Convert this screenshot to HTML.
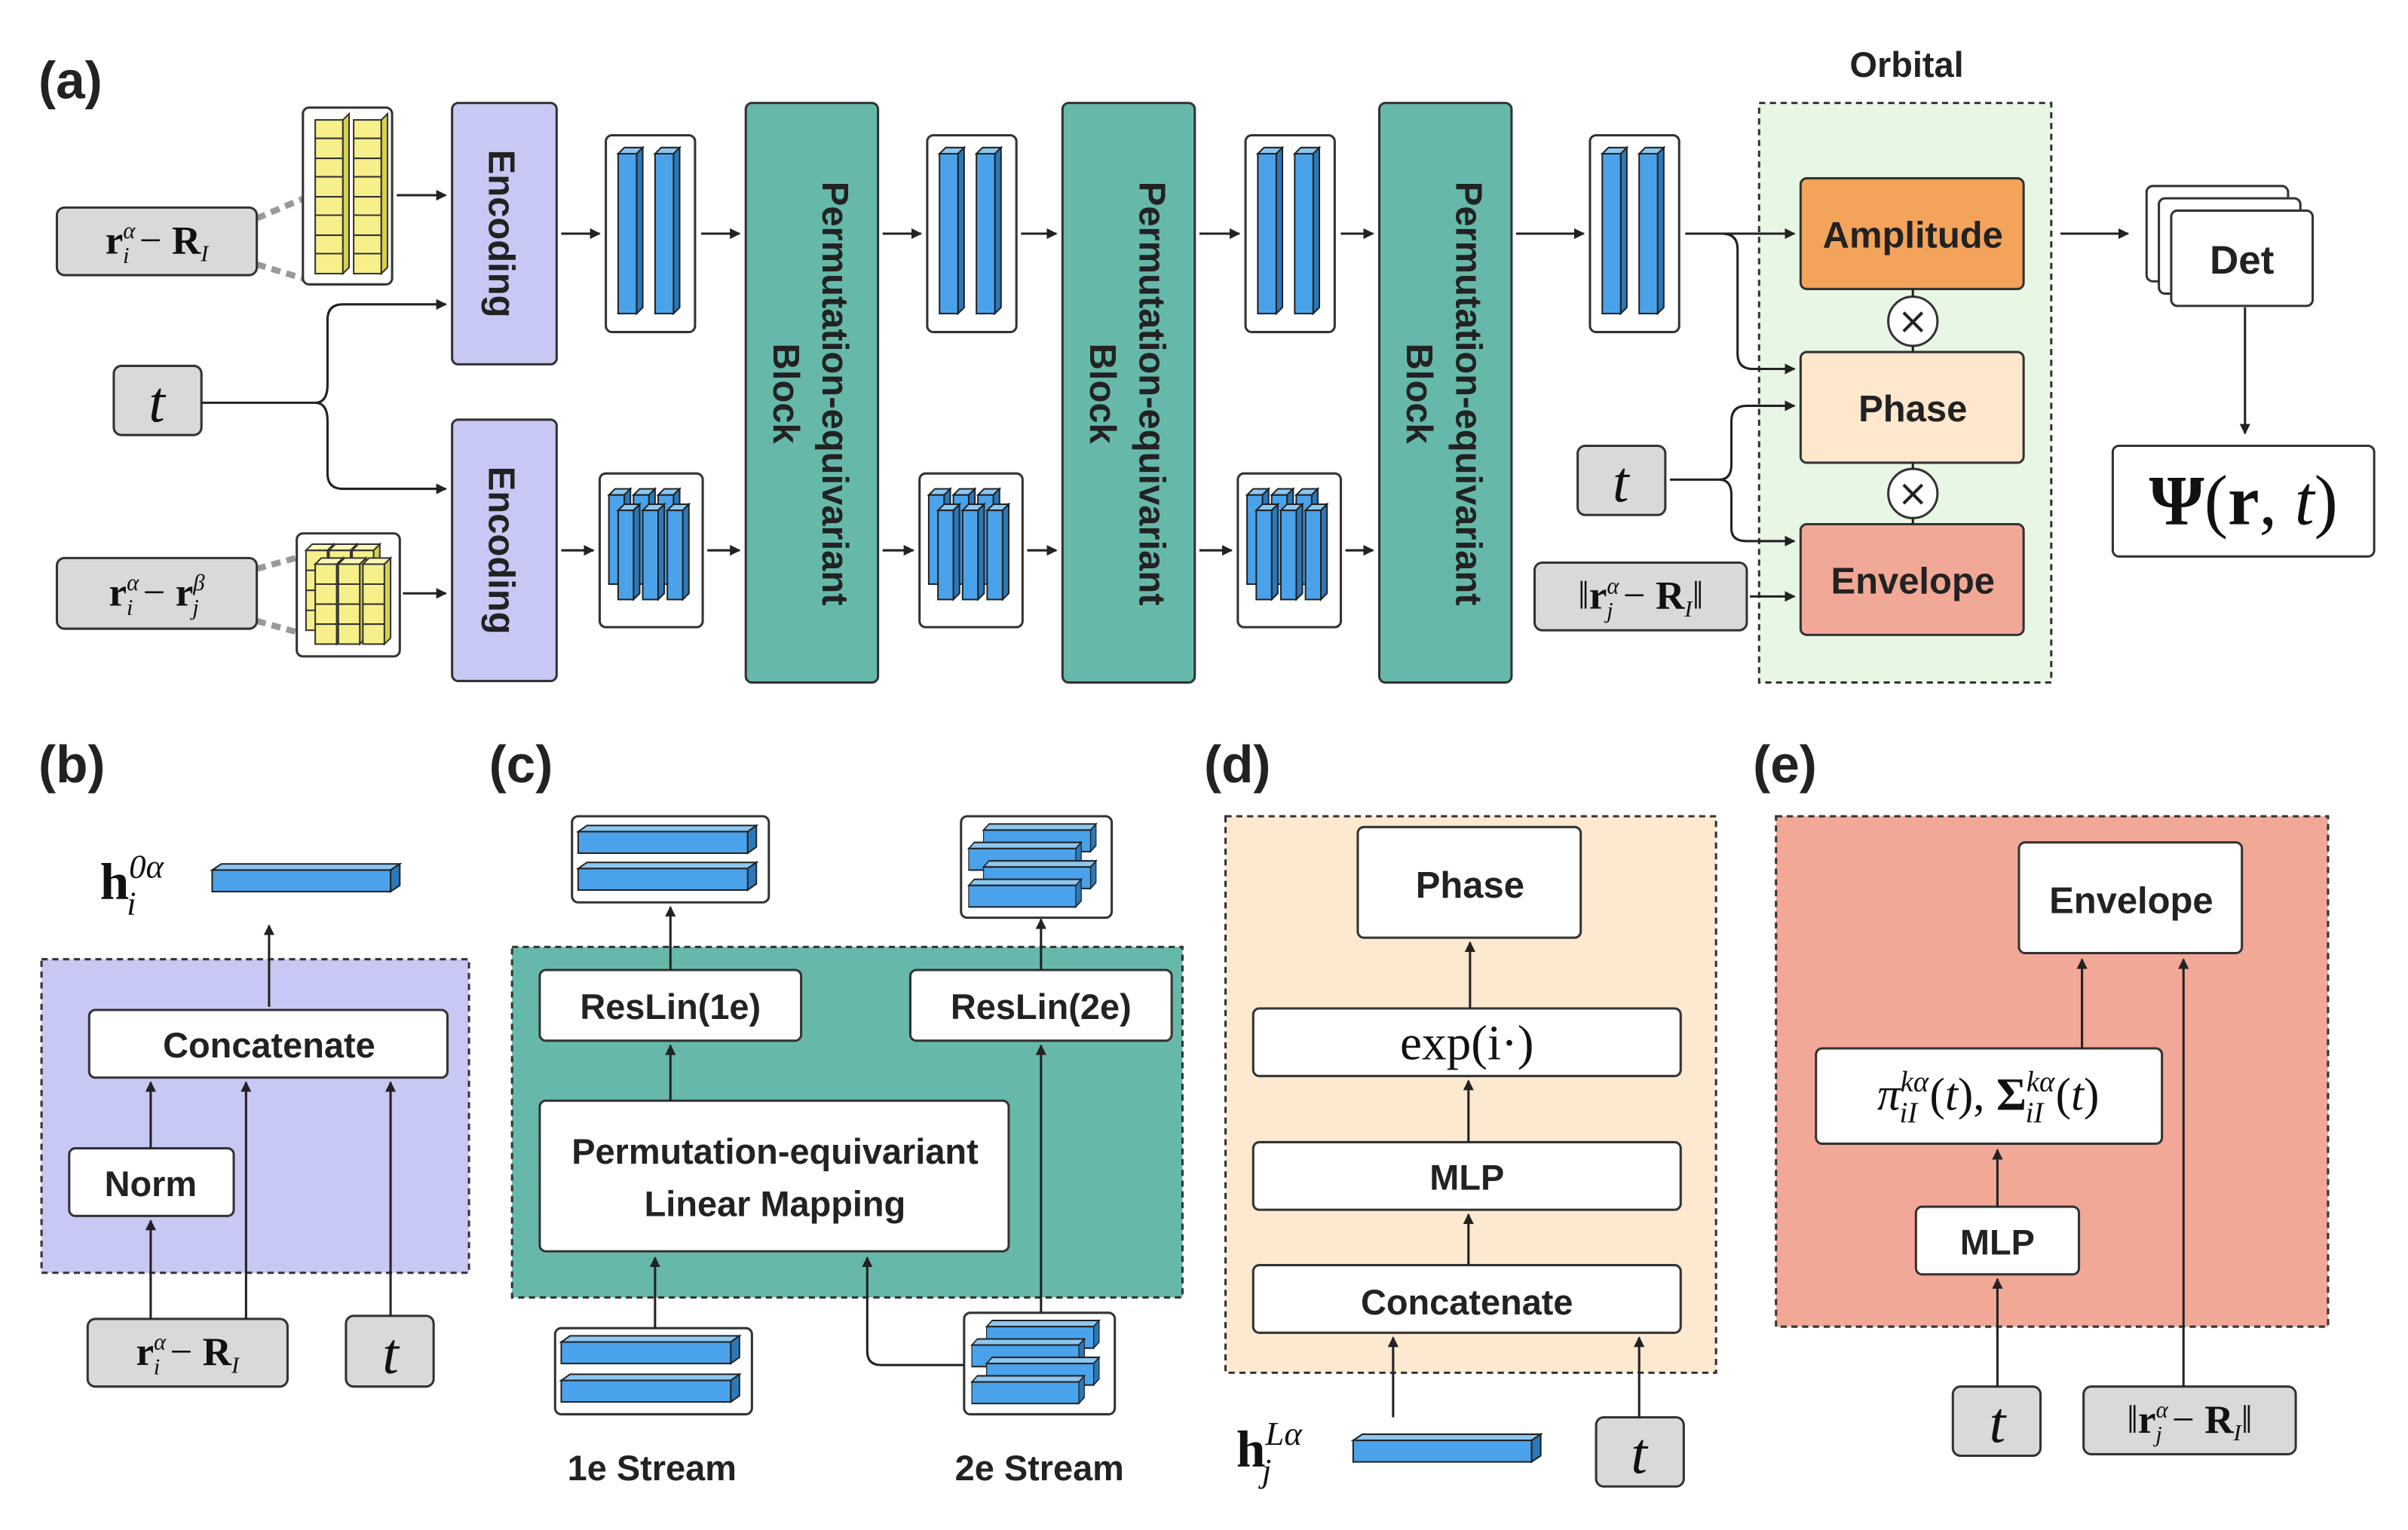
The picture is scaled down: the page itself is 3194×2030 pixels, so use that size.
<!DOCTYPE html>
<html><head><meta charset="utf-8"><style>
html,body{margin:0;padding:0;background:#fff}
svg{display:block}
.t{font-family:"Liberation Sans",sans-serif;font-weight:bold;fill:#222}
.m{font-family:"Liberation Serif",serif;fill:#111}
</style></head><body>
<svg width="3194" height="2030" viewBox="0 0 1566 995.3" preserveAspectRatio="none" xmlns="http://www.w3.org/2000/svg">
<defs>
<marker id="ah" viewBox="0 0 10 10" refX="9" refY="5" markerWidth="7" markerHeight="7" orient="auto" markerUnits="userSpaceOnUse"><path d="M0,0L10,5L0,10z" fill="#222"/></marker>
<g id="prism">
<path d="M0,4 L4,0 L16,0 L12,4z" fill="#8cc7f2" stroke="#222" stroke-width="1"/>
<path d="M12,4 L16,0 L16,104 L12,108z" fill="#2c78b8" stroke="#222" stroke-width="1"/>
<rect x="0" y="4" width="12" height="104" fill="#4aa3ea" stroke="#222" stroke-width="1"/>
</g>
<g id="bcol">
<rect x="0" y="0" width="58" height="128" rx="4" fill="#fff" stroke="#333" stroke-width="1.5"/>
<use href="#prism" x="8" y="8"/>
<use href="#prism" x="32" y="8"/>
</g>
<g id="sp">
<path d="M0,4 L4,0 L14,0 L10,4z" fill="#8cc7f2" stroke="#222"/>
<path d="M10,4 L14,0 L14,58 L10,62z" fill="#2c78b8" stroke="#222"/>
<rect x="0" y="4" width="10" height="58" fill="#4aa3ea" stroke="#222"/>
</g>
<g id="bcol2">
<rect x="0" y="0" width="67" height="100" rx="4" fill="#fff" stroke="#333" stroke-width="1.5"/>
<use href="#sp" x="6" y="10"/><use href="#sp" x="22" y="10"/><use href="#sp" x="38" y="10"/>
<use href="#sp" x="12" y="20"/><use href="#sp" x="28" y="20"/><use href="#sp" x="44" y="20"/>
</g>
<g id="hbar">
<path d="M0,4 L6,0 L122,0 L116,4z" fill="#8cc7f2" stroke="#222"/>
<path d="M116,4 L122,0 L122,14 L116,18z" fill="#2c78b8" stroke="#222"/>
<rect x="0" y="4" width="116" height="14" fill="#4aa3ea" stroke="#222"/>
</g>
<g id="ybar">
<rect x="0" y="0" width="18" height="100" fill="#f7f08a" stroke="#333"/>
<path d="M0,12H18M0,25H18M0,37H18M0,50H18M0,62H18M0,75H18M0,87H18" stroke="#333"/>
<path d="M18,0 L22,-4 L22,96 L18,100z" fill="#d8cf50" stroke="#333"/>
</g>
<g id="ycube">
<rect x="0" y="0" width="14" height="52" fill="#f7f08a" stroke="#333"/>
<path d="M0,13H14M0,26H14M0,39H14" stroke="#333"/>
<path d="M14,0 L18,-4 L18,48 L14,52z" fill="#d8cf50" stroke="#333"/>
<path d="M0,0 L4,-4 L18,-4 L14,0z" fill="#fbf7b8" stroke="#333"/>
</g>
</defs>

<!-- gray dashed -->
<path d="M167,142L200,128M167,172L200,182M167,370L196,362M167,404L196,412" stroke="#999" stroke-width="4" stroke-dasharray="6,4" fill="none"/>

<!-- (a) -->
<text class="t" x="25" y="64" font-size="34">(a)</text>
<rect x="37" y="135" width="130" height="44" rx="5" fill="#d9d9d9" stroke="#333" stroke-width="1.5"/>
<text class="m" x="102" y="165" font-size="26" text-anchor="middle"><tspan font-weight="bold">r</tspan><tspan font-size="15" dy="-10" font-style="italic">α</tspan><tspan font-size="15" dx="-8" dy="16" font-style="italic">i</tspan><tspan dy="-6"> − </tspan><tspan font-weight="bold">R</tspan><tspan font-size="15" dy="5" font-style="italic">I</tspan></text>
<rect x="197" y="70" width="58" height="115" rx="4" fill="#fff" stroke="#333" stroke-width="1.5"/>
<use href="#ybar" x="205" y="78"/><use href="#ybar" x="230" y="78"/>
<rect x="294" y="67" width="68" height="170" rx="4" fill="#c8c8f4" stroke="#333" stroke-width="1.5"/>
<text class="t" font-size="24" transform="translate(318,152) rotate(90)" text-anchor="middle">Encoding</text>
<rect x="74" y="238" width="57" height="45" rx="5" fill="#d9d9d9" stroke="#333" stroke-width="1.5"/>
<text class="m" x="102" y="274" font-size="38" font-style="italic" text-anchor="middle">t</text>
<rect x="294" y="273" width="68" height="170" rx="4" fill="#c8c8f4" stroke="#333" stroke-width="1.5"/>
<text class="t" font-size="24" transform="translate(318,358) rotate(90)" text-anchor="middle">Encoding</text>
<rect x="37" y="363" width="130" height="46" rx="5" fill="#d9d9d9" stroke="#333" stroke-width="1.5"/>
<text class="m" x="102" y="394" font-size="26" text-anchor="middle"><tspan font-weight="bold">r</tspan><tspan font-size="15" dy="-10" font-style="italic">α</tspan><tspan font-size="15" dx="-8" dy="16" font-style="italic">i</tspan><tspan dy="-6"> − </tspan><tspan font-weight="bold">r</tspan><tspan font-size="15" dy="-10" font-style="italic">β</tspan><tspan font-size="15" dx="-8" dy="16" font-style="italic">j</tspan></text>
<rect x="193" y="347" width="67" height="80" rx="4" fill="#fff" stroke="#333" stroke-width="1.5"/>
<use href="#ycube" x="199" y="358"/><use href="#ycube" x="214" y="358"/><use href="#ycube" x="229" y="358"/>
<use href="#ycube" x="205" y="367"/><use href="#ycube" x="220" y="367"/><use href="#ycube" x="236" y="367"/>

<use href="#bcol" x="394" y="88"/>
<use href="#bcol" x="603" y="88"/>
<use href="#bcol" x="810" y="88"/>
<use href="#bcol" x="1034" y="88"/>
<use href="#bcol2" x="390" y="308"/>
<use href="#bcol2" x="598" y="308"/>
<use href="#bcol2" x="805" y="308"/>

<g>
<rect x="485" y="67" width="86" height="377" rx="4" fill="#66b9aa" stroke="#333" stroke-width="1.5"/>
<text class="t" font-size="24" transform="translate(535,256) rotate(90)" text-anchor="middle">Permutation-equivariant</text>
<text class="t" font-size="24" transform="translate(503,256) rotate(90)" text-anchor="middle">Block</text>
<rect x="691" y="67" width="86" height="377" rx="4" fill="#66b9aa" stroke="#333" stroke-width="1.5"/>
<text class="t" font-size="24" transform="translate(741,256) rotate(90)" text-anchor="middle">Permutation-equivariant</text>
<text class="t" font-size="24" transform="translate(709,256) rotate(90)" text-anchor="middle">Block</text>
<rect x="897" y="67" width="86" height="377" rx="4" fill="#66b9aa" stroke="#333" stroke-width="1.5"/>
<text class="t" font-size="24" transform="translate(947,256) rotate(90)" text-anchor="middle">Permutation-equivariant</text>
<text class="t" font-size="24" transform="translate(915,256) rotate(90)" text-anchor="middle">Block</text>
</g>

<text class="t" x="1240" y="50" font-size="23" text-anchor="middle">Orbital</text>
<rect x="1144" y="67" width="190" height="377" fill="#e8f7e4" stroke="#333" stroke-width="1.5" stroke-dasharray="4,3"/>
<rect x="1171" y="116" width="145" height="72" rx="4" fill="#f4a35b" stroke="#333" stroke-width="1.5"/>
<text class="t" x="1244" y="161" font-size="24" text-anchor="middle">Amplitude</text>
<rect x="1171" y="229" width="145" height="72" rx="4" fill="#fde7cd" stroke="#333" stroke-width="1.5"/>
<text class="t" x="1244" y="274" font-size="24" text-anchor="middle">Phase</text>
<rect x="1171" y="341" width="145" height="72" rx="4" fill="#f2a897" stroke="#333" stroke-width="1.5"/>
<text class="t" x="1244" y="386" font-size="24" text-anchor="middle">Envelope</text>
<circle cx="1244" cy="209" r="16" fill="#fff" stroke="#333" stroke-width="1.5"/>
<text x="1244" y="217" font-size="24" text-anchor="middle" font-family="DejaVu Sans" fill="#222">×</text>
<circle cx="1244" cy="321" r="16" fill="#fff" stroke="#333" stroke-width="1.5"/>
<text x="1244" y="329" font-size="24" text-anchor="middle" font-family="DejaVu Sans" fill="#222">×</text>
<rect x="1026" y="290" width="57" height="45" rx="5" fill="#d9d9d9" stroke="#333" stroke-width="1.5"/>
<text class="m" x="1054" y="326" font-size="38" font-style="italic" text-anchor="middle">t</text>
<rect x="998" y="366" width="138" height="44" rx="5" fill="#d9d9d9" stroke="#333" stroke-width="1.5"/>
<text class="m" x="1067" y="396" font-size="26" text-anchor="middle">‖<tspan font-weight="bold">r</tspan><tspan font-size="15" dy="-10" font-style="italic">α</tspan><tspan font-size="15" dx="-8" dy="16" font-style="italic">j</tspan><tspan dy="-6"> − </tspan><tspan font-weight="bold">R</tspan><tspan font-size="15" dy="5" font-style="italic">I</tspan><tspan dy="-5">‖</tspan></text>
<rect x="1396" y="121" width="92" height="62" rx="4" fill="#fff" stroke="#333" stroke-width="1.5"/>
<rect x="1404" y="129" width="92" height="62" rx="4" fill="#fff" stroke="#333" stroke-width="1.5"/>
<rect x="1412" y="137" width="92" height="62" rx="4" fill="#fff" stroke="#333" stroke-width="1.5"/>
<text class="t" x="1458" y="178" font-size="26" text-anchor="middle">Det</text>
<rect x="1374" y="290" width="170" height="72" rx="4" fill="#fff" stroke="#333" stroke-width="1.5"/>
<text class="m" x="1459" y="341" font-size="46" text-anchor="middle"><tspan font-weight="bold">Ψ</tspan>(<tspan font-weight="bold">r</tspan>, <tspan font-style="italic">t</tspan>)</text>

<!-- (b) -->
<text class="t" x="25" y="509" font-size="34">(b)</text>
<text class="m" x="65" y="585" font-size="34"><tspan font-weight="bold">h</tspan><tspan font-size="22" dy="-14" font-style="italic">0α</tspan><tspan font-size="22" dx="-24" dy="24" font-style="italic">i</tspan></text>
<use href="#hbar" x="138" y="562"/>
<rect x="27" y="624" width="278" height="204" fill="#c8c8f4" stroke="#333" stroke-width="1.5" stroke-dasharray="4,3"/>
<rect x="58" y="657" width="233" height="44" rx="4" fill="#fff" stroke="#333" stroke-width="1.5"/>
<text class="t" x="175" y="688" font-size="23" text-anchor="middle">Concatenate</text>
<rect x="45" y="747" width="107" height="44" rx="4" fill="#fff" stroke="#333" stroke-width="1.5"/>
<text class="t" x="98" y="778" font-size="23" text-anchor="middle">Norm</text>
<rect x="57" y="858" width="130" height="44" rx="5" fill="#d9d9d9" stroke="#333" stroke-width="1.5"/>
<text class="m" x="122" y="888" font-size="26" text-anchor="middle"><tspan font-weight="bold">r</tspan><tspan font-size="15" dy="-10" font-style="italic">α</tspan><tspan font-size="15" dx="-8" dy="16" font-style="italic">i</tspan><tspan dy="-6"> − </tspan><tspan font-weight="bold">R</tspan><tspan font-size="15" dy="5" font-style="italic">I</tspan></text>
<rect x="225" y="856" width="57" height="46" rx="5" fill="#d9d9d9" stroke="#333" stroke-width="1.5"/>
<text class="m" x="254" y="893" font-size="38" font-style="italic" text-anchor="middle">t</text>

<!-- (c) -->
<text class="t" x="318" y="509" font-size="34">(c)</text>
<rect x="372" y="531" width="128" height="56" rx="4" fill="#fff" stroke="#333" stroke-width="1.5"/>
<use href="#hbar" transform="translate(376,537) scale(0.95,1)"/>
<use href="#hbar" transform="translate(376,561) scale(0.95,1)"/>
<rect x="625" y="531" width="98" height="66" rx="4" fill="#fff" stroke="#333" stroke-width="1.5"/>
<g transform="translate(630,536) scale(0.6,1)"><use href="#hbar" x="16" y="0"/><use href="#hbar" x="0" y="12"/><use href="#hbar" x="16" y="24"/><use href="#hbar" x="0" y="36"/></g>
<rect x="333" y="616" width="436" height="228" fill="#66b9aa" stroke="#333" stroke-width="1.5" stroke-dasharray="4,3"/>
<rect x="351" y="631" width="170" height="46" rx="4" fill="#fff" stroke="#333" stroke-width="1.5"/>
<text class="t" x="436" y="663" font-size="23" text-anchor="middle">ResLin(1e)</text>
<rect x="592" y="631" width="170" height="46" rx="4" fill="#fff" stroke="#333" stroke-width="1.5"/>
<text class="t" x="677" y="663" font-size="23" text-anchor="middle">ResLin(2e)</text>
<rect x="351" y="716" width="305" height="98" rx="4" fill="#fff" stroke="#333" stroke-width="1.5"/>
<text class="t" x="504" y="757" font-size="23" text-anchor="middle">Permutation-equivariant</text>
<text class="t" x="504" y="791" font-size="23" text-anchor="middle">Linear Mapping</text>
<rect x="361" y="864" width="128" height="56" rx="4" fill="#fff" stroke="#333" stroke-width="1.5"/>
<use href="#hbar" transform="translate(365,869) scale(0.95,1)"/>
<use href="#hbar" transform="translate(365,894) scale(0.95,1)"/>
<rect x="627" y="854" width="98" height="66" rx="4" fill="#fff" stroke="#333" stroke-width="1.5"/>
<g transform="translate(632,859) scale(0.6,1)"><use href="#hbar" x="16" y="0"/><use href="#hbar" x="0" y="12"/><use href="#hbar" x="16" y="24"/><use href="#hbar" x="0" y="36"/></g>
<text class="t" x="424" y="963" font-size="23" text-anchor="middle">1e Stream</text>
<text class="t" x="676" y="963" font-size="23" text-anchor="middle">2e Stream</text>

<!-- (d) -->
<text class="t" x="783" y="509" font-size="34">(d)</text>
<rect x="797" y="531" width="319" height="362" fill="#fde8d0" stroke="#333" stroke-width="1.5" stroke-dasharray="4,3"/>
<rect x="883" y="538" width="145" height="72" rx="4" fill="#fff" stroke="#333" stroke-width="1.5"/>
<text class="t" x="956" y="584" font-size="24" text-anchor="middle">Phase</text>
<rect x="815" y="656" width="278" height="44" rx="4" fill="#fff" stroke="#333" stroke-width="1.5"/>
<text class="m" x="954" y="689" font-size="32" text-anchor="middle">exp(i·)</text>
<rect x="815" y="743" width="278" height="44" rx="4" fill="#fff" stroke="#333" stroke-width="1.5"/>
<text class="t" x="954" y="774" font-size="23" text-anchor="middle">MLP</text>
<rect x="815" y="823" width="278" height="44" rx="4" fill="#fff" stroke="#333" stroke-width="1.5"/>
<text class="t" x="954" y="855" font-size="23" text-anchor="middle">Concatenate</text>
<text class="m" x="804" y="954" font-size="34"><tspan font-weight="bold">h</tspan><tspan font-size="22" dy="-14" font-style="italic">Lα</tspan><tspan font-size="22" dx="-26" dy="24" font-style="italic">j</tspan></text>
<use href="#hbar" x="880" y="933"/>
<rect x="1038" y="922" width="57" height="45" rx="5" fill="#d9d9d9" stroke="#333" stroke-width="1.5"/>
<text class="m" x="1066" y="958" font-size="38" font-style="italic" text-anchor="middle">t</text>

<!-- (e) -->
<text class="t" x="1140" y="509" font-size="34">(e)</text>
<rect x="1155" y="531" width="359" height="332" fill="#f2a897" stroke="#333" stroke-width="1.5" stroke-dasharray="4,3"/>
<rect x="1313" y="548" width="145" height="72" rx="4" fill="#fff" stroke="#333" stroke-width="1.5"/>
<text class="t" x="1386" y="594" font-size="24" text-anchor="middle">Envelope</text>
<rect x="1181" y="682" width="225" height="62" rx="4" fill="#fff" stroke="#333" stroke-width="1.5"/>
<text class="m" x="1293" y="722" font-size="30" text-anchor="middle"><tspan font-style="italic">π</tspan><tspan font-size="19" dy="-12" font-style="italic">kα</tspan><tspan font-size="19" dx="-19" dy="20" font-style="italic">iI</tspan><tspan dx="8" dy="-8">(</tspan><tspan font-style="italic">t</tspan>), <tspan font-weight="bold">Σ</tspan><tspan font-size="19" dy="-12" font-style="italic">kα</tspan><tspan font-size="19" dx="-19" dy="20" font-style="italic">iI</tspan><tspan dx="8" dy="-8">(</tspan><tspan font-style="italic">t</tspan>)</text>
<rect x="1246" y="785" width="106" height="44" rx="4" fill="#fff" stroke="#333" stroke-width="1.5"/>
<text class="t" x="1299" y="816" font-size="23" text-anchor="middle">MLP</text>
<rect x="1270" y="902" width="57" height="45" rx="5" fill="#d9d9d9" stroke="#333" stroke-width="1.5"/>
<text class="m" x="1299" y="938" font-size="38" font-style="italic" text-anchor="middle">t</text>
<rect x="1355" y="902" width="138" height="44" rx="5" fill="#d9d9d9" stroke="#333" stroke-width="1.5"/>
<text class="m" x="1424" y="932" font-size="26" text-anchor="middle">‖<tspan font-weight="bold">r</tspan><tspan font-size="15" dy="-10" font-style="italic">α</tspan><tspan font-size="15" dx="-8" dy="16" font-style="italic">j</tspan><tspan dy="-6"> − </tspan><tspan font-weight="bold">R</tspan><tspan font-size="15" dy="5" font-style="italic">I</tspan><tspan dy="-5">‖</tspan></text>

<!-- arrows on top -->
<g stroke="#222" stroke-width="1.5" fill="none">
<path d="M258,127H290" marker-end="url(#ah)"/>
<path d="M262,386H290" marker-end="url(#ah)"/>
<path d="M131,262H205M205,262Q213,262 213,250V208Q213,198 223,198H290" marker-end="url(#ah)"/>
<path d="M205,262Q213,262 213,274V308Q213,318 223,318H290" marker-end="url(#ah)"/>
<path d="M365,152H390" marker-end="url(#ah)"/>
<path d="M365,358H386" marker-end="url(#ah)"/>
<path d="M456,152H481" marker-end="url(#ah)"/>
<path d="M460,358H481" marker-end="url(#ah)"/>
<path d="M574,152H599" marker-end="url(#ah)"/>
<path d="M574,358H594" marker-end="url(#ah)"/>
<path d="M664,152H687" marker-end="url(#ah)"/>
<path d="M668,358H687" marker-end="url(#ah)"/>
<path d="M780,152H806" marker-end="url(#ah)"/>
<path d="M780,358H801" marker-end="url(#ah)"/>
<path d="M872,152H893" marker-end="url(#ah)"/>
<path d="M875,358H893" marker-end="url(#ah)"/>
<path d="M986,152H1030" marker-end="url(#ah)"/>
<path d="M1096,152H1167" marker-end="url(#ah)"/>
<path d="M1120,152Q1130,152 1130,162V230Q1130,240 1140,240H1167" marker-end="url(#ah)"/>
<path d="M1086,312H1118Q1126,312 1126,302V274Q1126,264 1136,264H1167" marker-end="url(#ah)"/>
<path d="M1118,312Q1126,312 1126,322V344Q1126,352 1136,352H1167" marker-end="url(#ah)"/>
<path d="M1138,388H1167" marker-end="url(#ah)"/>
<path d="M1340,152H1384" marker-end="url(#ah)"/>
<path d="M1460,200V282" marker-end="url(#ah)"/>
<path d="M1244,188V193M1244,225V229M1244,301V305M1244,337V341"/>
<path d="M175,655V602" marker-end="url(#ah)"/>
<path d="M98,747V704" marker-end="url(#ah)"/>
<path d="M98,858V794" marker-end="url(#ah)"/>
<path d="M160,858V704" marker-end="url(#ah)"/>
<path d="M254,856V704" marker-end="url(#ah)"/>
<path d="M436,631V590" marker-end="url(#ah)"/>
<path d="M677,631V598" marker-end="url(#ah)"/>
<path d="M436,716V680" marker-end="url(#ah)"/>
<path d="M426,864V818" marker-end="url(#ah)"/>
<path d="M627,888H573Q564,888 564,879V818" marker-end="url(#ah)"/>
<path d="M677,854V680" marker-end="url(#ah)"/>
<path d="M956,656V613" marker-end="url(#ah)"/>
<path d="M955,743V703" marker-end="url(#ah)"/>
<path d="M955,823V790" marker-end="url(#ah)"/>
<path d="M906,922V870" marker-end="url(#ah)"/>
<path d="M1066,922V870" marker-end="url(#ah)"/>
<path d="M1354,682V624" marker-end="url(#ah)"/>
<path d="M1420,902V624" marker-end="url(#ah)"/>
<path d="M1299,785V748" marker-end="url(#ah)"/>
<path d="M1299,902V832" marker-end="url(#ah)"/>
</g>
</svg>
</body></html>
